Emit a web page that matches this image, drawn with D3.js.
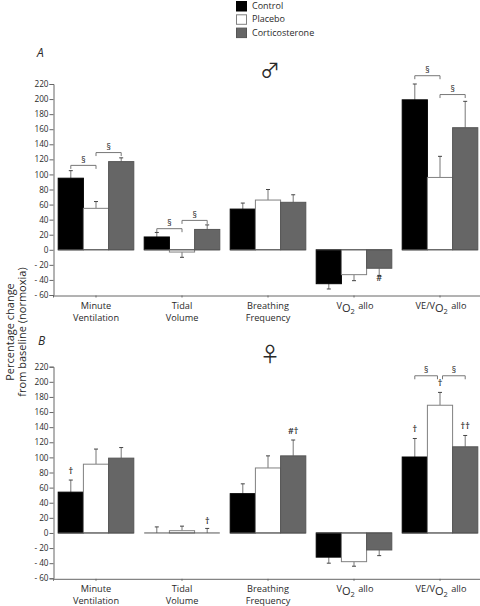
<!DOCTYPE html>
<html><head><meta charset="utf-8">
<script src="https://cdn.jsdelivr.net/npm/d3@7/dist/d3.min.js"></script>
<style>html,body{margin:0;padding:0;background:#fff}svg{display:block;opacity:.999}text{font-family:"Open Sans",sans-serif;fill:#2a2a2a}</style>
</head><body><svg id="c" width="480" height="606"></svg>
<script>
const seriesNames=["Control","Placebo","Corticosterone"];
const seriesFill=["#000000","#ffffff","#666666"];
const seriesStroke=["#000000","#808080","#555555"];
const yTicks=d3.range(-60,221,20);
const groups=["Minute Ventilation","Tidal Volume","Breathing Frequency","VO2 allo","VE/VO2 allo"];
const maleValues=[[95,55,117],[17,-3,27],[54,66,63],[-45,-33,-24.5],[199,96,162]];
const maleErrorEnds=[[105,64,122],[23,-10,33],[62,80,73],[-52,-41,-34],[220,124,197]];
const femaleValues=[[54,91,99],[0,3,0],[52,86,102],[-32,-38,-22.5],[100.5,169,114]];
const femaleErrorEnds=[[70,111,113],[8,9,6],[65,102,123],[-40,-44,-30],[125,186,129]];
// [group, from series, to series, level]
const maleBrackets=[[0,0,1,112],[0,1,2,129],[1,0,1,28],[1,1,2,39],[4,0,1,231],[4,1,2,206]];
const femaleBrackets=[[4,0,0.9,208],[4,1.1,2,208]];
// [group, series, value, text]
const maleMarks=[[3,2,-42,"#"]];
const femaleMarks=[[0,0,78,"†"],[1,2,12,"†"],[2,2,131,"#†"],[4,0,133,"†"],[4,1,194,"†"],[4,2,137,"††"]];

const svg=d3.select("#c");
const x0=d3.scaleBand().domain(groups).range([53,483]);
const barStep=25.2;
const cx=(g,s)=>x0(groups[g])+x0.bandwidth()/2+barStep*(s-1);

function subLabel(sel,parts){
  parts.forEach(([t,sub])=>{
    if(sub){
      sel.append("tspan").attr("dy",3).style("font-size","11px").text("O");
      sel.append("tspan").attr("dy",2).style("font-size","7.5px").text("2");
      sel.append("tspan").attr("dy",-5).text("\u200a");
    } else sel.append("tspan").text(t);
  });
}
const xLabels={
 "Minute Ventilation":[[["Minute"]],[["Ventilation"]]],
 "Tidal Volume":[[["Tidal"]],[["Volume"]]],
 "Breathing Frequency":[[["Breathing"]],[["Frequency"]]],
 "VO2 allo":[[["V"],["O2",1],[" allo"]]],
 "VE/VO2 allo":[[["VE/V"],["O2",1],[" allo"]]]
};

function panel(top,bottom,values,ends,brackets,marks){
  const y=d3.scaleLinear().domain([-60,220]).range([bottom,top]);
  const g=svg.append("g");
  const ax=g.append("g").attr("transform","translate(53.5,0)")
    .call(d3.axisLeft(y).tickValues(yTicks).tickSize(4).tickPadding(1).tickFormat(d=>d<0?"- "+(-d):d));
  ax.selectAll("text").style("font-size","8.2px").style("fill","#2a2a2a");
  ax.selectAll("line,path").attr("stroke","#666");
  const bx=g.append("g").attr("transform",`translate(0,${bottom+.5})`)
    .call(d3.axisBottom(x0).tickSize(2).tickFormat(""));
  bx.selectAll("line,path").attr("stroke","#666");

  values.forEach((row,gi)=>{
    row.forEach((v,si)=>{
      const e=ends[gi][si];
      const c=cx(gi,si);
      g.append("line").attr("x1",c).attr("x2",c).attr("y1",y(v)).attr("y2",y(e)).attr("stroke","#777").attr("stroke-width",1);
      g.append("line").attr("x1",c-2).attr("x2",c+2).attr("y1",y(e)).attr("y2",y(e)).attr("stroke","#444").attr("stroke-width",1);
    });
    row.forEach((v,si)=>{
      g.append("rect").attr("x",cx(gi,si)-barStep/2).attr("width",barStep)
       .attr("y",Math.min(y(v),y(0))).attr("height",Math.abs(y(v)-y(0)))
       .attr("fill",seriesFill[si]).attr("stroke",seriesStroke[si]).attr("stroke-width",1);
    });
    g.append("line").attr("x1",cx(gi,0)-barStep/2).attr("x2",cx(gi,2)+barStep/2)
     .attr("y1",y(0)).attr("y2",y(0)).attr("stroke","#555");
  });

  brackets.forEach(([gi,a,b,lvl])=>{
    const xa=cx(gi,a),xb=cx(gi,b),yy=y(lvl);
    g.append("path").attr("d",`M${xa},${yy+3.5}V${yy}H${xb}V${yy+3.5}`).attr("fill","none").attr("stroke","#777");
    g.append("text").attr("x",(xa+xb)/2).attr("y",yy-2.5).attr("text-anchor","middle").style("font-size","8.5px").text("§");
  });
  marks.forEach(([gi,si,v,t])=>{
    g.append("text").attr("x",cx(gi,si)).attr("y",y(v)).attr("text-anchor","middle").style("font-size","9px").style("font-weight","600").text(t);
  });

  groups.forEach((name,gi)=>{
    const lines=xLabels[name];
    const c=cx(gi,1)+(gi>2?1:0);
    lines.forEach((parts,li)=>{
      const t=g.append("text").attr("x",c).attr("y",bottom+14+li*12).attr("text-anchor","middle").style("font-size","9.2px");
      subLabel(t,parts);
    });
  });
}
panel(84,295,maleValues,maleErrorEnds,maleBrackets,maleMarks);
panel(366.7,578.3,femaleValues,femaleErrorEnds,femaleBrackets,femaleMarks);

seriesNames.forEach((n,i)=>{
  const top=1.5+i*13.3;
  svg.append("rect").attr("x",236.5).attr("y",top).attr("width",10).attr("height",9.5)
    .attr("fill",seriesFill[i]).attr("stroke",seriesStroke[i]);
  svg.append("text").attr("x",252).attr("y",top+7.5).style("font-size","9px").text(n);
});
svg.append("text").attr("x",37).attr("y",57).style("font-size","12px").style("font-style","italic").text("A");
svg.append("text").attr("x",38).attr("y",345).style("font-size","12px").style("font-style","italic").text("B");
svg.append("text").attr("x",270).attr("y",78).attr("text-anchor","middle").style("font-family","Noto Sans CJK SC").style("font-size","20px").text("♂");
svg.append("text").attr("x",270).attr("y",362).attr("text-anchor","middle").style("font-family","Noto Sans CJK SC").style("font-size","20px").text("♀");
[["Percentage change",14],["from baseline (normoxia)",26]].forEach(([t,xp])=>{
  svg.append("text").attr("transform",`translate(${xp},332) rotate(-90)`).attr("text-anchor","middle").style("font-size","11px").text(t);
});
</script></body></html>
